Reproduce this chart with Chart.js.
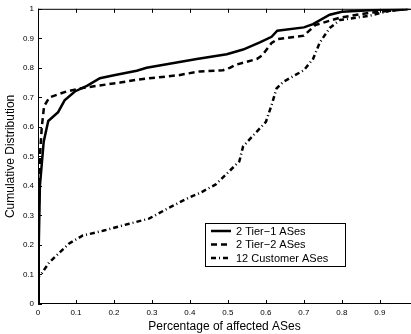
<!DOCTYPE html>
<html>
<head>
<meta charset="utf-8">
<script src="https://cdn.jsdelivr.net/npm/chart.js@4"></script>
<style>
  html, body { margin: 0; padding: 0; background: #fff; }
  #wrap { width: 411px; height: 334px; }
</style>
</head>
<body>
<div id="wrap"><canvas id="cdf"></canvas></div>
<script>
// datos
const tier1X = [0, 0.002, 0.005, 0.015, 0.027, 0.053, 0.07, 0.097, 0.13, 0.163, 0.2, 0.26, 0.286, 0.35, 0.418, 0.497, 0.54, 0.584, 0.615, 0.63, 0.70, 0.724, 0.768, 0.80, 0.90, 0.98];
const tier1Y = [0, 0.20, 0.40, 0.55, 0.62, 0.65, 0.69, 0.72, 0.74, 0.765, 0.775, 0.79, 0.80, 0.815, 0.83, 0.846, 0.862, 0.886, 0.905, 0.926, 0.937, 0.948, 0.98, 0.99, 0.997, 1.0];

const tier2X = [0, 0.002, 0.005, 0.01, 0.016, 0.03, 0.075, 0.11, 0.16, 0.216, 0.26, 0.37, 0.426, 0.487, 0.505, 0.52, 0.576, 0.59, 0.615, 0.63, 0.70, 0.73, 0.795, 0.874, 0.96, 0.98];
const tier2Y = [0, 0.30, 0.50, 0.60, 0.67, 0.70, 0.72, 0.73, 0.74, 0.75, 0.76, 0.775, 0.788, 0.792, 0.80, 0.81, 0.83, 0.842, 0.884, 0.897, 0.909, 0.945, 0.97, 0.987, 0.997, 1.0];

const custX = [0, 0, 0.008, 0.029, 0.082, 0.118, 0.171, 0.24, 0.292, 0.345, 0.397, 0.426, 0.468, 0.53, 0.54, 0.60, 0.615, 0.628, 0.645, 0.70, 0.724, 0.742, 0.768, 0.795, 0.874, 0.926, 0.98];
const custY = [0, 0.09, 0.10, 0.14, 0.205, 0.232, 0.248, 0.272, 0.289, 0.326, 0.36, 0.376, 0.405, 0.483, 0.534, 0.617, 0.674, 0.73, 0.752, 0.792, 0.83, 0.886, 0.935, 0.962, 0.977, 0.993, 1.0];

const seriesLabels = ['2 Tier\u22121 ASes', '2 Tier\u22122 ASes', '12 Customer ASes'];
const tickValues = [0, 0.1, 0.2, 0.3, 0.4, 0.5, 0.6, 0.7, 0.8, 0.9, 1];
const xMax = 0.982;

const FONT = '"Liberation Sans", Arial, Helvetica, sans-serif';

function toPoints(xs, ys) {
    return xs.map((x, i) => ({ x: x, y: ys[i] }));
}

// ticks hacia dentro y marco superior (estilo matlab)
const frameTicks = {
    id: 'frameTicks',
    afterDatasetsDraw(chart) {
        const { ctx, chartArea: a, scales } = chart;
        ctx.save();
        ctx.strokeStyle = '#000';
        ctx.lineWidth = 1;
        ctx.beginPath();
        ctx.moveTo(a.left, a.top + 0.5);
        ctx.lineTo(a.right, a.top + 0.5);
        ctx.moveTo(a.left + 0.5, a.top);
        ctx.lineTo(a.left + 0.5, a.bottom);
        ctx.moveTo(a.left, a.bottom - 0.5);
        ctx.lineTo(a.right, a.bottom - 0.5);
        scales.x.ticks.forEach(t => {
            const px = Math.round(scales.x.getPixelForValue(t.value)) + 0.5;
            ctx.moveTo(px, a.bottom);
            ctx.lineTo(px, a.bottom - 4);
            ctx.moveTo(px, a.top);
            ctx.lineTo(px, a.top + 4);
        });
        scales.y.ticks.forEach(t => {
            const py = Math.round(scales.y.getPixelForValue(t.value)) + 0.5;
            ctx.moveTo(a.left, py);
            ctx.lineTo(a.left + 4, py);
        });
        ctx.stroke();
        ctx.restore();
    }
};

// leyenda con recuadro
const boxLegend = {
    id: 'boxLegend',
    afterDraw(chart) {
        const ctx = chart.ctx;
        const x0 = 205, y0 = 223, w = 140, h = 43;
        ctx.save();
        ctx.fillStyle = '#fff';
        ctx.fillRect(x0, y0, w, h);
        ctx.strokeStyle = '#000';
        ctx.lineWidth = 1;
        ctx.strokeRect(x0 + 0.5, y0 + 0.5, w, h);
        ctx.font = '11px ' + FONT;
        ctx.textBaseline = 'middle';
        chart.data.datasets.forEach((ds, i) => {
            const yy = y0 + 8 + i * 13.5;
            ctx.strokeStyle = '#000';
            ctx.lineWidth = ds.borderWidth;
            ctx.setLineDash(ds.borderDash || []);
            ctx.beginPath();
            ctx.moveTo(x0 + 6, yy);
            ctx.lineTo(x0 + 26, yy);
            ctx.stroke();
            ctx.setLineDash([]);
            ctx.fillStyle = '#000';
            ctx.fillText(ds.label, x0 + 31, yy + 0.5);
        });
        ctx.restore();
    }
};

const ctx = document.getElementById('cdf').getContext('2d');
const cdfChart = new Chart(ctx, {
    type: 'line',
    data: {
        datasets: [
            {
                label: seriesLabels[0],
                data: toPoints(tier1X, tier1Y),
                borderColor: '#000',
                borderWidth: 2.5,
                pointRadius: 0,
                tension: 0
            },
            {
                label: seriesLabels[1],
                data: toPoints(tier2X, tier2Y),
                borderColor: '#000',
                borderWidth: 2.5,
                borderDash: [6, 4],
                pointRadius: 0,
                tension: 0
            },
            {
                label: seriesLabels[2],
                data: toPoints(custX, custY),
                borderColor: '#000',
                borderWidth: 2.5,
                borderDash: [5, 3, 1, 3],
                pointRadius: 0,
                tension: 0
            }
        ]
    },
    options: {
        responsive: true,
        maintainAspectRatio: false,
        animation: false,
        events: [],
        layout: { padding: { top: 6, right: 0, left: 0, bottom: 0 } },
        plugins: {
            legend: { display: false },
            tooltip: { enabled: false }
        },
        scales: {
            x: {
                type: 'linear',
                min: 0,
                max: xMax,
                afterBuildTicks: (s) => { s.ticks = tickValues.filter(v => v <= xMax).map(v => ({ value: v })); },
                afterFit: (s) => { s.height = 30; },
                grid: { display: false, drawTicks: false },
                border: { display: false },
                ticks: {
                    padding: 4,
                    maxRotation: 0,
                    autoSkip: false,
                    color: '#000',
                    font: { family: FONT, size: 8 },
                    callback: (v) => String(Math.round(v * 10) / 10)
                },
                title: {
                    display: true,
                    text: 'Percentage of affected ASes',
                    color: '#000',
                    font: { family: FONT, size: 12 },
                    padding: { top: 0, bottom: 0 }
                }
            },
            y: {
                type: 'linear',
                min: 0,
                max: 1,
                afterBuildTicks: (s) => { s.ticks = tickValues.map(v => ({ value: v })); },
                afterFit: (s) => { s.width = 38; },
                grid: { display: false, drawTicks: false },
                border: { display: false },
                ticks: {
                    padding: 4,
                    autoSkip: false,
                    color: '#000',
                    font: { family: FONT, size: 8 },
                    callback: (v) => String(Math.round(v * 10) / 10)
                },
                title: {
                    display: true,
                    text: 'Cumulative Distribution',
                    color: '#000',
                    font: { family: FONT, size: 12 },
                    padding: { top: 3, bottom: 2 }
                }
            }
        }
    },
    plugins: [frameTicks, boxLegend]
});
</script>
</body>
</html>
